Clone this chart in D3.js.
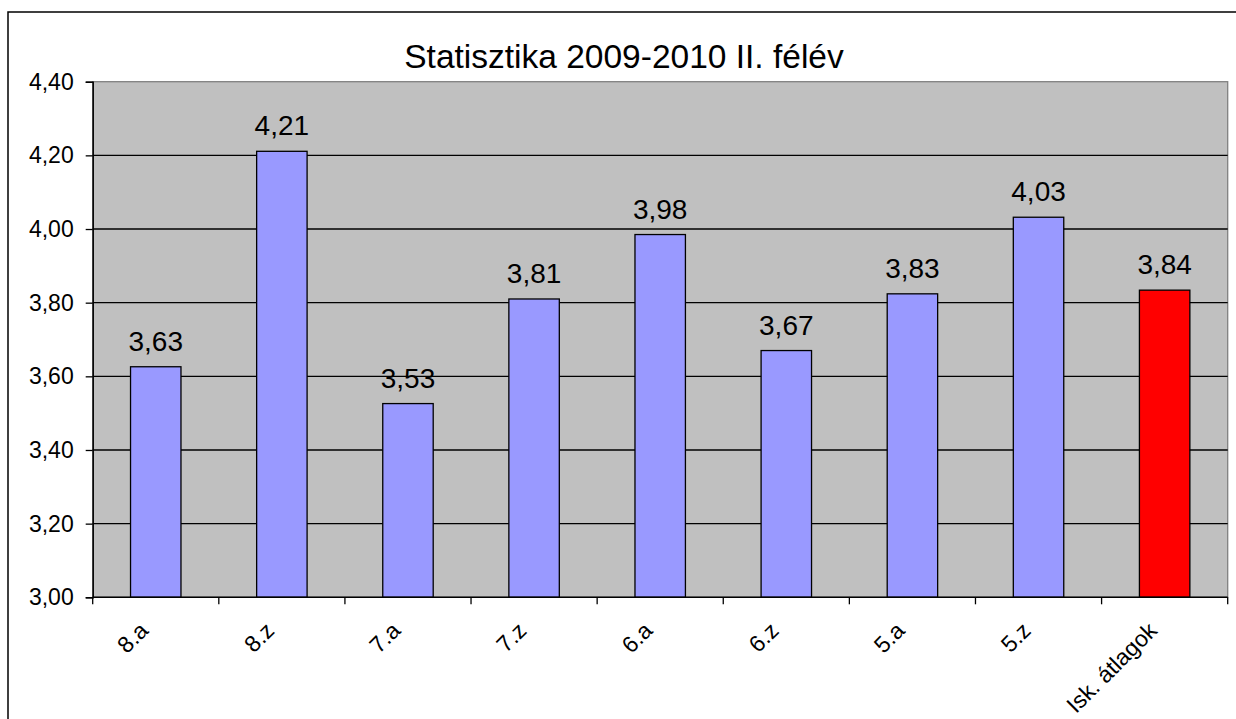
<!DOCTYPE html>
<html>
<head>
<meta charset="utf-8">
<script src="https://cdn.jsdelivr.net/npm/d3@7"></script>
<style>
  body { margin: 0; background: #fff; }
  text { font-family: Arial, "Liberation Sans", sans-serif; fill: #000; }
</style>
</head>
<body>
<script>
// class averages, second half of 2009-2010
var categories = ["8.a", "8.z", "7.a", "7.z", "6.a", "6.z", "5.a", "5.z", "Isk. átlagok"];
var values = [3.626, 4.211, 3.526, 3.81, 3.985, 3.67, 3.824, 4.032, 3.834];
var labels = ["3,63", "4,21", "3,53", "3,81", "3,98", "3,67", "3,83", "4,03", "3,84"];
var yTicks = [3.0, 3.2, 3.4, 3.6, 3.8, 4.0, 4.2, 4.4];

var width = 1236, height = 719;
var plot = {left: 92.7, top: 81.7, right: 1227.7, bottom: 597.3};

var svg = d3.select("body").append("svg")
    .attr("width", width)
    .attr("height", height);

// outer chart frame (only top + left visible)
svg.append("rect")
    .attr("x", 8).attr("y", 12)
    .attr("width", 1300).attr("height", 800)
    .attr("fill", "none")
    .attr("stroke", "#000")
    .attr("stroke-width", 1.5);

var x = d3.scaleBand()
    .domain(categories)
    .range([plot.left, plot.right])
    .paddingInner(0)
    .paddingOuter(0);

var y = d3.scaleLinear()
    .domain([3.0, 4.4])
    .range([plot.bottom, plot.top]);

// plot background
svg.append("rect")
    .attr("x", plot.left).attr("y", plot.top)
    .attr("width", plot.right - plot.left)
    .attr("height", plot.bottom - plot.top)
    .attr("fill", "#c0c0c0")
    .attr("stroke", "#808080")
    .attr("stroke-width", 1.3);

// gridlines
svg.append("g")
  .selectAll("line")
  .data(yTicks.filter(function(d) { return d > 3.0 && d < 4.4; }))
  .enter().append("line")
    .attr("x1", plot.left).attr("x2", plot.right)
    .attr("y1", function(d) { return y(d); })
    .attr("y2", function(d) { return y(d); })
    .attr("stroke", "#000")
    .attr("stroke-width", 1.3);

// bars
var bw = x.bandwidth() * 0.4;
svg.append("g")
  .selectAll("rect")
  .data(values)
  .enter().append("rect")
    .attr("x", function(d, i) { return x(categories[i]) + (x.bandwidth() - bw) / 2; })
    .attr("y", function(d) { return y(d); })
    .attr("width", bw)
    .attr("height", function(d) { return plot.bottom - y(d); })
    .attr("fill", function(d, i) { return i == categories.length - 1 ? "#ff0000" : "#9999ff"; })
    .attr("stroke", "#000")
    .attr("stroke-width", 1.3);

// value labels
svg.append("g")
  .selectAll("text")
  .data(values)
  .enter().append("text")
    .attr("x", function(d, i) { return x(categories[i]) + x.bandwidth() / 2; })
    .attr("y", function(d) { return y(d) - 16; })
    .attr("text-anchor", "middle")
    .style("font-size", "28px")
    .text(function(d, i) { return labels[i]; });

// y axis
var yAxis = d3.axisLeft(y)
    .tickValues(yTicks)
    .tickSize(7)
    .tickPadding(12)
    .tickFormat(function(d) { return d3.format(".2f")(d).replace(".", ","); });

var gy = svg.append("g")
    .attr("transform", "translate(" + plot.left + ",0)")
    .call(yAxis);
gy.select(".domain").attr("stroke", "#000").attr("stroke-width", 1.5);
gy.selectAll(".tick line").attr("stroke", "#000").attr("stroke-width", 1.3);
gy.selectAll(".tick text")
    .style("font-size", "23px")
    .style("font-family", "Arial, 'Liberation Sans', sans-serif")
    .attr("fill", "#000");

// x axis: ticks at category boundaries
var gx = svg.append("g");
gx.append("line")
    .attr("x1", plot.left).attr("x2", plot.right)
    .attr("y1", plot.bottom).attr("y2", plot.bottom)
    .attr("stroke", "#000").attr("stroke-width", 1.5);
var bounds = categories.map(function(c) { return x(c); }).concat([plot.right]);
gx.selectAll(".xt")
  .data(bounds)
  .enter().append("line")
    .attr("x1", function(d) { return d; }).attr("x2", function(d) { return d; })
    .attr("y1", plot.bottom).attr("y2", plot.bottom + 7)
    .attr("stroke", "#000").attr("stroke-width", 1.3);

gx.selectAll("text")
  .data(categories)
  .enter().append("text")
    .attr("transform", function(d) {
      return "translate(" + (x(d) + x.bandwidth() / 2 - 12) + "," + (plot.bottom + 29) + ") rotate(-45)";
    })
    .attr("text-anchor", "end")
    .attr("dy", "0.35em")
    .style("font-size", "23px")
    .text(function(d) { return d; });

// title
svg.append("text")
    .attr("x", 624)
    .attr("y", 68)
    .attr("text-anchor", "middle")
    .style("font-size", "33.5px")
    .text("Statisztika 2009-2010 II. félév");
</script>
</body>
</html>
